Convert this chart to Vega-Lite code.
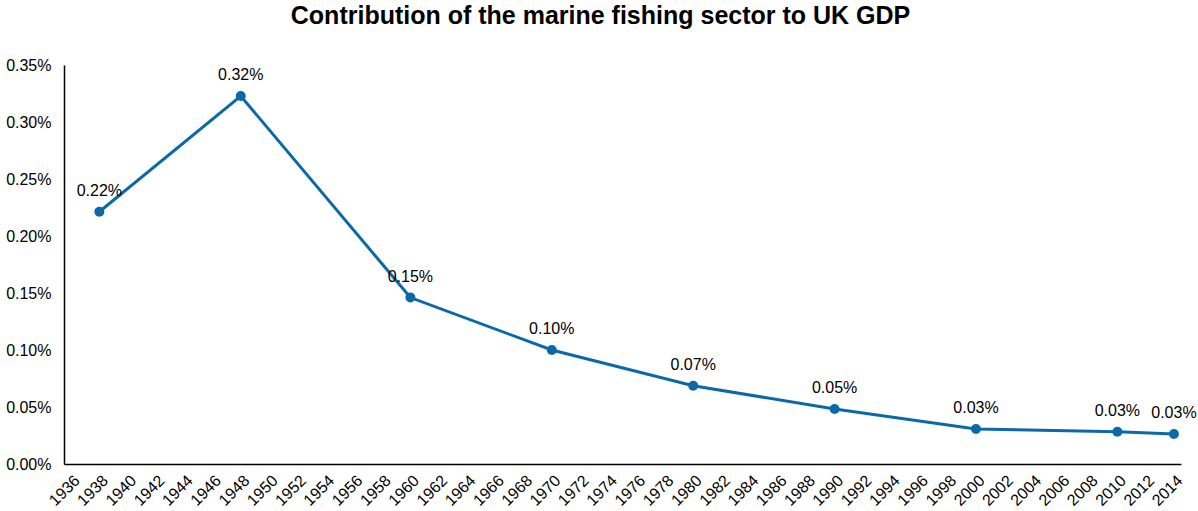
{
  "$schema": "https://vega.github.io/schema/vega-lite/v6.json",
  "autosize": "none",
  "width": 1117,
  "height": 399,
  "padding": {"left": 64, "top": 65, "right": 17, "bottom": 47},
  "background": "white",
  "title": {
    "text": "Contribution of the marine fishing sector to UK GDP",
    "font": "Liberation Sans",
    "fontSize": 25,
    "fontWeight": "bold",
    "color": "black",
    "anchor": "middle",
    "dx": -22,
    "offset": 28
  },
  "config": {
    "view": {"stroke": null},
    "font": "Liberation Sans"
  },
  "data": {
    "values": [
      {"year": 1938, "share": 0.002213},
      {"year": 1948, "share": 0.003228},
      {"year": 1960, "share": 0.00146},
      {"year": 1970, "share": 0.001},
      {"year": 1980, "share": 0.000687},
      {"year": 1990, "share": 0.000482},
      {"year": 2000, "share": 0.000307},
      {"year": 2010, "share": 0.000283},
      {"year": 2014, "share": 0.000263}
    ]
  },
  "encoding": {
    "x": {
      "field": "year",
      "type": "quantitative",
      "scale": {"domain": [1935.5, 2014.5], "nice": false, "zero": false},
      "axis": {
        "title": null,
        "values": [1936,1938,1940,1942,1944,1946,1948,1950,1952,1954,1956,1958,1960,1962,1964,1966,1968,1970,1972,1974,1976,1978,1980,1982,1984,1986,1988,1990,1992,1994,1996,1998,2000,2002,2004,2006,2008,2010,2012,2014],
        "format": "d",
        "labelAngle": -45,
        "labelFontSize": 16,
        "labelColor": "black",
        "labelFont": "Liberation Sans",
        "ticks": false,
        "labelPadding": 8,
        "domainColor": "black",
        "domainWidth": 1.5,
        "grid": false,
        "labelOverlap": false,
        "labelBound": false,
        "labelFlush": false
      }
    },
    "y": {
      "field": "share",
      "type": "quantitative",
      "scale": {"domain": [0, 0.0035], "nice": false},
      "axis": {
        "title": null,
        "values": [0, 0.0005, 0.001, 0.0015, 0.002, 0.0025, 0.003, 0.0035],
        "format": ".2%",
        "labelFontSize": 16,
        "labelColor": "black",
        "labelFont": "Liberation Sans",
        "ticks": false,
        "labelPadding": 13,
        "domainColor": "black",
        "domainWidth": 1.5,
        "grid": false,
        "labelOverlap": false,
        "labelFlush": false
      }
    }
  },
  "layer": [
    {
      "mark": {"type": "line", "color": "#0B69A8", "strokeWidth": 3}
    },
    {
      "mark": {"type": "point", "filled": true, "color": "#0B69A8", "size": 100, "opacity": 1}
    },
    {
      "mark": {"type": "text", "fontSize": 16, "color": "black", "baseline": "middle", "align": "center", "dy": -21, "font": "Liberation Sans"},
      "encoding": {
        "text": {"field": "share", "type": "quantitative", "format": ".2%"}
      }
    }
  ]
}
